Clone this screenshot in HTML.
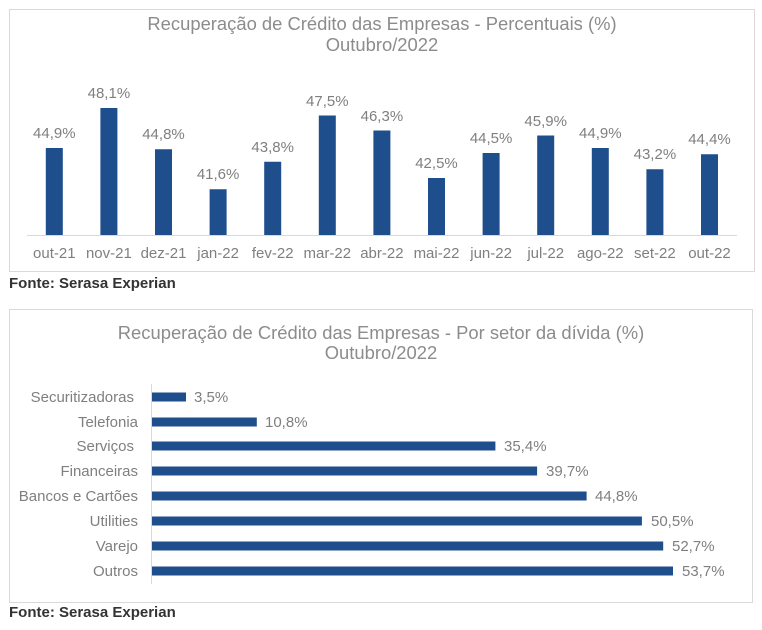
<!DOCTYPE html>
<html><head><meta charset="utf-8"><style>
html,body{margin:0;padding:0;background:#fff}
svg{display:block;font-family:"Liberation Sans",Arial,sans-serif}
.t{fill:#8c8c8c;font-size:18.4px}
.l{fill:#7f7f7f;font-size:15px}
.f{fill:#333;font-size:15px;font-weight:bold}
.b{fill:#1f4e8c}
</style></head><body>
<svg width="762" height="630" viewBox="0 0 762 630">
<rect x="9.5" y="9.5" width="745" height="262" fill="#fff" stroke="#d9d9d9"/>
<text class="t" x="382" y="30" text-anchor="middle">Recuperação de Crédito das Empresas - Percentuais (%)</text>
<text class="t" x="382" y="51" text-anchor="middle">Outubro/2022</text>
<line x1="27" y1="235.5" x2="737" y2="235.5" stroke="#d9d9d9"/>
<g class="b">
<rect x="45.8" y="148" width="17" height="87"/>
<rect x="100.4" y="108" width="17" height="127"/>
<rect x="155" y="149.25" width="17" height="85.75"/>
<rect x="209.6" y="189.25" width="17" height="45.75"/>
<rect x="264.2" y="161.75" width="17" height="73.25"/>
<rect x="318.8" y="115.5" width="17" height="119.5"/>
<rect x="373.4" y="130.5" width="17" height="104.5"/>
<rect x="428" y="178" width="17" height="57"/>
<rect x="482.6" y="153" width="17" height="82"/>
<rect x="537.2" y="135.5" width="17" height="99.5"/>
<rect x="591.8" y="148" width="17" height="87"/>
<rect x="646.4" y="169.25" width="17" height="65.75"/>
<rect x="701" y="154.25" width="17" height="80.75"/>
</g>
<g class="l" text-anchor="middle">
<text x="54.3" y="138">44,9%</text>
<text x="108.9" y="98">48,1%</text>
<text x="163.5" y="139">44,8%</text>
<text x="218.1" y="179">41,6%</text>
<text x="272.7" y="152">43,8%</text>
<text x="327.3" y="106">47,5%</text>
<text x="381.9" y="121">46,3%</text>
<text x="436.5" y="168">42,5%</text>
<text x="491.1" y="143">44,5%</text>
<text x="545.7" y="126">45,9%</text>
<text x="600.3" y="138">44,9%</text>
<text x="654.9" y="159">43,2%</text>
<text x="709.5" y="144">44,4%</text>
</g>
<g class="l" text-anchor="middle">
<text x="54.3" y="258">out-21</text>
<text x="108.9" y="258">nov-21</text>
<text x="163.5" y="258">dez-21</text>
<text x="218.1" y="258">jan-22</text>
<text x="272.7" y="258">fev-22</text>
<text x="327.3" y="258">mar-22</text>
<text x="381.9" y="258">abr-22</text>
<text x="436.5" y="258">mai-22</text>
<text x="491.1" y="258">jun-22</text>
<text x="545.7" y="258">jul-22</text>
<text x="600.3" y="258">ago-22</text>
<text x="654.9" y="258">set-22</text>
<text x="709.5" y="258">out-22</text>
</g>
<text class="f" x="9" y="288">Fonte: Serasa Experian</text>

<rect x="9.5" y="309.5" width="743" height="293" fill="#fff" stroke="#d9d9d9"/>
<text class="t" x="381" y="339" text-anchor="middle">Recuperação de Crédito das Empresas - Por setor da dívida (%)</text>
<text class="t" x="381" y="359" text-anchor="middle">Outubro/2022</text>
<line x1="151.5" y1="384" x2="151.5" y2="584" stroke="#d9d9d9"/>
<g class="b">
<rect x="152" y="392.5" width="34" height="9"/>
<rect x="152" y="417.5" width="104.8" height="9"/>
<rect x="152" y="441.5" width="343.4" height="9"/>
<rect x="152" y="466.5" width="385.1" height="9"/>
<rect x="152" y="491.5" width="434.6" height="9"/>
<rect x="152" y="516.5" width="489.9" height="9"/>
<rect x="152" y="541.5" width="511.2" height="9"/>
<rect x="152" y="566.5" width="521" height="9"/>
</g>
<g class="l">
<text x="194" y="402">3,5%</text>
<text x="265" y="427">10,8%</text>
<text x="504" y="451">35,4%</text>
<text x="546" y="476">39,7%</text>
<text x="595" y="501">44,8%</text>
<text x="651" y="526">50,5%</text>
<text x="672" y="551">52,7%</text>
<text x="682" y="576">53,7%</text>
</g>
<g class="l" text-anchor="end">
<text x="134" y="402">Securitizadoras</text>
<text x="138" y="427">Telefonia</text>
<text x="134" y="451">Serviços</text>
<text x="138" y="476">Financeiras</text>
<text x="138" y="501">Bancos e Cartões</text>
<text x="138" y="526">Utilities</text>
<text x="138" y="551">Varejo</text>
<text x="138" y="576">Outros</text>
</g>
<text class="f" x="9" y="617">Fonte: Serasa Experian</text>
</svg>
</body></html>
